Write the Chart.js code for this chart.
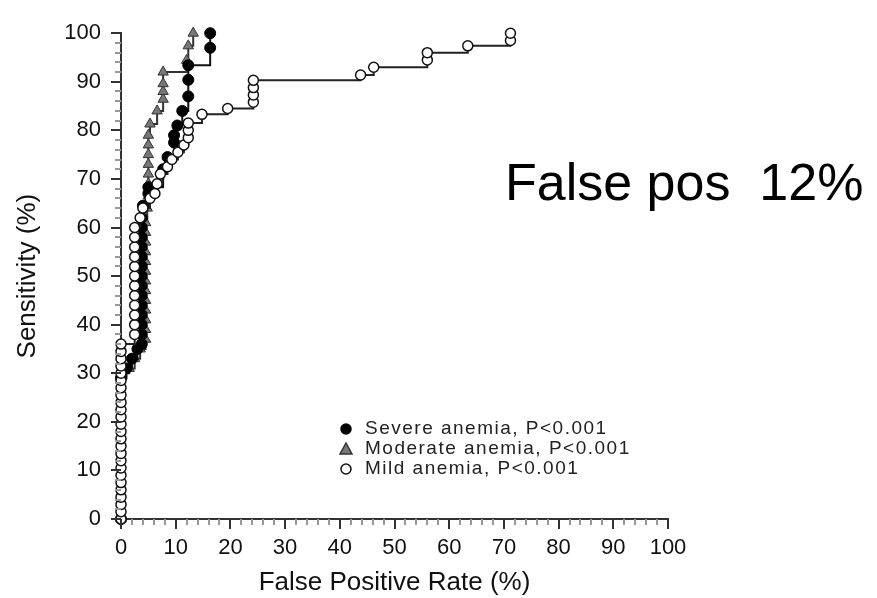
<!DOCTYPE html>
<html lang="en">
<head>
    <meta charset="UTF-8">
    <title>ROC anemia</title>
    <script src="https://cdn.jsdelivr.net/npm/chart.js"></script>
    <style>
        body { margin: 0; background: #fff; }
        #wrap { width: 877px; height: 598px; }
    </style>
</head>
<body>
    <div id="wrap"><canvas id="roc"></canvas></div>
    <script>
        // data (false positive rate %, sensitivity %)
        const severeX = [0, 0, 1, 2, 3, 3.8, 3.8, 3.8, 3.8, 3.8, 3.8, 3.8, 3.8, 3.8, 3.8, 3.8, 3.8, 3.8, 3.8, 4, 5, 5, 7.7, 8.5, 9.7, 9.7, 10.3, 11.2, 12.3, 12.3, 12.3, 16.3, 16.3];
        const severeY = [0, 29, 31, 33, 35, 36, 38, 40, 42, 44, 46, 48, 50, 52, 54, 56, 58, 60, 62, 64.5, 67, 68.3, 72, 74.5, 77.5, 79, 81, 84, 87, 90.4, 93.4, 97, 100];

        const moderateX = [0, 0, 1.5, 2.5, 3.5, 4.5, 4.5, 4.5, 4.5, 4.5, 4.5, 4.5, 4.5, 4.5, 4.5, 4.5, 4.5, 4.5, 4.8, 5, 5, 5, 5, 5, 5, 5, 5.3, 6.6, 7.7, 7.7, 7.7, 7.7, 12, 12.3, 13.2];
        const moderateY = [0, 30, 31, 33, 35, 37, 39, 41, 43, 45, 47, 49, 51, 53, 55, 57, 59, 61, 64, 66.5, 69, 71, 73, 75, 77, 79, 81.3, 84, 86.4, 88, 89.6, 92, 94.4, 97.4, 100];

        const mildX = [0, 0, 0, 0, 0, 0, 0, 0, 0, 0, 0, 0, 0, 0, 0, 0, 0, 0, 0, 0, 0, 0, 0, 0, 0,
            2.5, 2.5, 2.5, 2.5, 2.5, 2.5, 2.5, 2.5, 2.5, 2.5, 2.5, 2.5, 3.5, 4, 5.3, 6.2, 6.6, 7.2, 8.5, 9.3, 10.4, 11.5,
            12.3, 12.3, 12.3, 14.8, 19.5, 24.2, 24.2, 24.2, 24.2, 43.8, 46.2, 56, 56, 63.4, 71.2, 71.2];
        const mildY = [0, 1.5, 3, 4.5, 6, 7.5, 9, 10.5, 12, 13.5, 15, 16.5, 18, 19.5, 21, 22.5, 24, 25.5, 27, 28.5, 30, 31.5, 33, 34.5, 36,
            38, 40, 42, 44, 46, 48, 50, 52, 54, 56, 58, 60, 62, 64, 66, 67, 69, 71, 72.5, 74, 75.5, 77,
            78.5, 80, 81.5, 83.3, 84.5, 85.8, 87.3, 88.8, 90.3, 91.4, 93, 94.5, 96, 97.4, 98.5, 100];

        const tickLabels = [0, 10, 20, 30, 40, 50, 60, 70, 80, 90, 100];
        const legendLabels = ['Severe anemia, P<0.001', 'Moderate anemia, P<0.001', 'Mild anemia, P<0.001'];
        const noteText = 'False pos  12%';

        const pts = (xs, ys) => xs.map((v, i) => ({ x: v, y: ys[i] }));

        // small ticks every 2, long ones every 10, plus legend and note
        const extras = {
            id: 'extras',
            afterDraw(chart) {
                const { ctx, scales: { x, y } } = chart;
                ctx.save();
                for (let v = 0; v <= 100; v += 2) {
                    const major = v % 10 === 0;
                    ctx.strokeStyle = major ? '#333' : '#999';
                    ctx.lineWidth = 2;
                    const len = major ? 10 : 6;
                    const px = Math.round(x.getPixelForValue(v));
                    ctx.beginPath();
                    ctx.moveTo(px, x.top);
                    ctx.lineTo(px, x.top + len);
                    ctx.stroke();
                    const py = Math.round(y.getPixelForValue(v));
                    ctx.beginPath();
                    ctx.moveTo(y.right, py);
                    ctx.lineTo(y.right - len, py);
                    ctx.stroke();
                }

                // legend
                const styles = chart.data.datasets;
                ctx.font = '19px "Liberation Sans", Arial, sans-serif';
                ctx.letterSpacing = '1.5px';
                ctx.textBaseline = 'middle';
                legendLabels.forEach((txt, i) => {
                    const ly = 429 + i * 20;
                    const ds = styles[i];
                    ctx.fillStyle = ds.pointBackgroundColor;
                    ctx.strokeStyle = ds.pointBorderColor;
                    ctx.lineWidth = 1.5;
                    ctx.beginPath();
                    if (ds.pointStyle === 'triangle') {
                        ctx.moveTo(346, ly - 6);
                        ctx.lineTo(352, ly + 5);
                        ctx.lineTo(340, ly + 5);
                        ctx.closePath();
                    } else {
                        ctx.arc(346, ly, 5, 0, Math.PI * 2);
                    }
                    ctx.fill();
                    ctx.stroke();
                    ctx.fillStyle = '#222';
                    ctx.fillText(txt, 365, ly);
                });

                // big note
                ctx.letterSpacing = '0px';
                ctx.font = '52px "Liberation Sans", Arial, sans-serif';
                ctx.fillStyle = '#000';
                ctx.textBaseline = 'alphabetic';
                ctx.fillText(noteText, 505, 200);
                ctx.restore();
            }
        };

        const ctx = document.getElementById('roc').getContext('2d');
        new Chart(ctx, {
            type: 'line',
            data: {
                datasets: [{
                    label: legendLabels[0],
                    data: pts(severeX, severeY),
                    stepped: true,
                    borderColor: '#111',
                    borderWidth: 2,
                    pointStyle: 'circle',
                    pointRadius: 5.5,
                    pointBackgroundColor: '#000',
                    pointBorderColor: '#000',
                    pointBorderWidth: 1,
                    clip: false,
                    order: 1
                }, {
                    label: legendLabels[1],
                    data: pts(moderateX, moderateY),
                    stepped: true,
                    borderColor: '#333',
                    borderWidth: 2,
                    pointStyle: 'triangle',
                    pointRadius: 6,
                    pointBackgroundColor: '#777',
                    pointBorderColor: '#333',
                    pointBorderWidth: 1,
                    clip: false,
                    order: 2
                }, {
                    label: legendLabels[2],
                    data: pts(mildX, mildY),
                    stepped: true,
                    borderColor: '#222',
                    borderWidth: 2,
                    pointStyle: 'circle',
                    pointRadius: 5,
                    pointBackgroundColor: '#fff',
                    pointBorderColor: '#111',
                    pointBorderWidth: 1.5,
                    clip: false,
                    order: 0
                }]
            },
            options: {
                responsive: true,
                maintainAspectRatio: false,
                animation: false,
                layout: { padding: { left: 10, top: 20, right: 209, bottom: 0 } },
                plugins: { legend: { display: false }, tooltip: { enabled: false } },
                scales: {
                    x: {
                        type: 'linear',
                        min: 0,
                        max: 100,
                        afterFit: s => { s.height = 79; },
                        afterBuildTicks: s => { s.ticks = tickLabels.map(v => ({ value: v })); },
                        grid: { display: true, drawOnChartArea: false, drawTicks: false },
                        border: { display: true, color: '#333', width: 2 },
                        ticks: {
                            padding: 16,
                            color: '#111',
                            font: { family: '"Liberation Sans", Arial, sans-serif', size: 22 },
                            maxRotation: 0,
                            autoSkip: false
                        },
                        title: {
                            display: true,
                            text: 'False Positive Rate (%)',
                            color: '#111',
                            font: { family: '"Liberation Sans", Arial, sans-serif', size: 26 },
                            padding: { top: 2, bottom: 0 }
                        }
                    },
                    y: {
                        type: 'linear',
                        min: 0,
                        max: 100,
                        afterFit: s => { s.width = 111; },
                        afterBuildTicks: s => { s.ticks = tickLabels.map(v => ({ value: v })); },
                        grid: { display: true, drawOnChartArea: false, drawTicks: false },
                        border: { display: true, color: '#333', width: 2 },
                        ticks: {
                            padding: 20,
                            color: '#111',
                            font: { family: '"Liberation Sans", Arial, sans-serif', size: 22 },
                            autoSkip: false
                        },
                        title: {
                            display: true,
                            text: 'Sensitivity (%)',
                            color: '#111',
                            font: { family: '"Liberation Sans", Arial, sans-serif', size: 26 },
                            padding: { top: 2, bottom: 2 }
                        }
                    }
                }
            },
            plugins: [extras]
        });
    </script>
</body>
</html>
